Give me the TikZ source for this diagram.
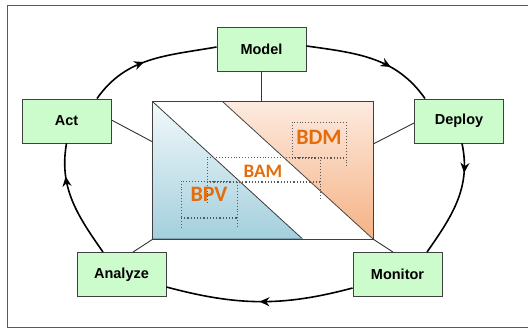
\documentclass[tikz,border=0pt]{standalone}
\usepackage{fontspec}
\setmainfont{Liberation Sans}
\newfontfamily\calib{Carlito}
\usetikzlibrary{arrows.meta,decorations.markings}
\definecolor{boxgreen}{HTML}{CCFCCC}
\definecolor{boxedge}{HTML}{404040}
\definecolor{tagorange}{HTML}{E46C0A}
\definecolor{bluetop}{HTML}{F2F9FB}
\definecolor{bluebot}{HTML}{A3CFDD}
\definecolor{orgtop}{HTML}{FDEADF}
\definecolor{orgbot}{HTML}{F5B284}
\tikzset{
  phase/.style={draw=boxedge, line width=0.9pt, fill=boxgreen, minimum width=89pt,
    minimum height=44pt, inner sep=0pt,
    font=\fontsize{14.5}{17}\selectfont\bfseries},
  cycle/.style={line width=1.6pt, black},
  midarrow/.style={postaction={decorate}, decoration={markings,
    mark=at position #1 with {\arrow{Stealth[length=10pt,width=9pt]}}}},
  link/.style={line width=0.9pt, black!80},
  dotbox/.style={dotted, line width=0.9pt, black!65},
  tag/.style={text=tagorange, font=\calib\bfseries\fontsize{#1}{#1}\selectfont, inner sep=0pt}
}
\begin{document}
\begin{tikzpicture}[x=1pt, y=-1pt]
\useasboundingbox (0,0) rectangle (528,329);
% outer frame
\draw[line width=0.9pt, black!65] (531,5) -- (7,5) -- (7,327) -- (531,327);

% central block
\node[minimum width=220pt, minimum height=137pt, inner sep=0pt] (core) at (263,170.5) {};
\fill[top color=bluetop, bottom color=bluebot] (core.north west) -- (core.south west) -- ([xshift=150pt]core.south west) -- cycle;
\fill[top color=orgtop, bottom color=orgbot] ([xshift=70pt]core.north west) -- (core.north east) -- (core.south east) -- cycle;
\draw[line width=0.8pt, black!75] (core.north west) -- ([xshift=150pt]core.south west);
\draw[line width=0.8pt, black!70] ([xshift=70pt]core.north west) -- (core.south east);
\draw[line width=1.5pt, bluebot!80!black] (core.south west) -- ([xshift=150pt]core.south west);
\draw[line width=1.2pt, orgbot!90!black] (core.north east) -- (core.south east);
\draw[line width=1.1pt, black!75] (core.north west) rectangle (core.south east);

% dotted brackets
\draw[dotbox] (292,158) -- (292,122) -- (346,122) -- (346,167);
\draw[dotbox, line width=1.2pt] (292,158) -- (346,158);
\draw[dotbox] (207,203) -- (207,157) -- (320,157) -- (320,200);
\draw[dotbox, line width=1.2pt] (207,182) -- (320,182);
\draw[dotbox] (181,228) -- (181,181) -- (237,181) -- (237,228);
\draw[dotbox, line width=1.2pt] (181,218) -- (237,218);

\node[tag=22] (bdm) at (319,137) {BDM};
\node[tag=19] (bam) at (263,171) {BAM};
\node[tag=22] (bpv) at (209,194) {BPV};

% phases
\node[phase] (model) at (261.5,49) {Model};
\node[phase] (act) at (66.5,121) {Act};
\node[phase] (deploy) at (459,121) {Deploy};
\node[phase] (analyze) at (121.5,274.5) {Analyze};
\node[phase] (monitor) at (397.5,274.5) {Monitor};

% links to the central block
\draw[link] (model.south) -- (model.south |- core.north);
\draw[link] ([yshift=1pt]act.east) -- ([yshift=28.5pt]core.west);
\draw[link] ([yshift=-2pt]deploy.west) -- ([yshift=26.5pt]core.east);
\draw[link] ([xshift=11.5pt]analyze.north) -- (core.south west);
\draw[link] ([xshift=-4.5pt]monitor.north) -- (core.south east);

% lifecycle
\draw[cycle, midarrow=0.45] ([xshift=30.5pt]act.north) to[out=55,in=190] ([yshift=2pt]model.west);
\draw[cycle, midarrow=0.65] ([yshift=3pt]model.east) to[out=-8,in=125] ([xshift=-34pt]deploy.north);
\draw[cycle, midarrow=0.25] ([xshift=3pt]deploy.south) to[out=-78,in=55] ([xshift=29.5pt]monitor.north);
\draw[cycle, midarrow=0.5] ([yshift=-13.5pt]monitor.west) to[out=195,in=-15] ([yshift=-12.5pt]analyze.east);
\draw[cycle, midarrow=0.72] ([xshift=-18.5pt]analyze.north) to[out=125,in=-100] (act.south);
\end{tikzpicture}
\end{document}
